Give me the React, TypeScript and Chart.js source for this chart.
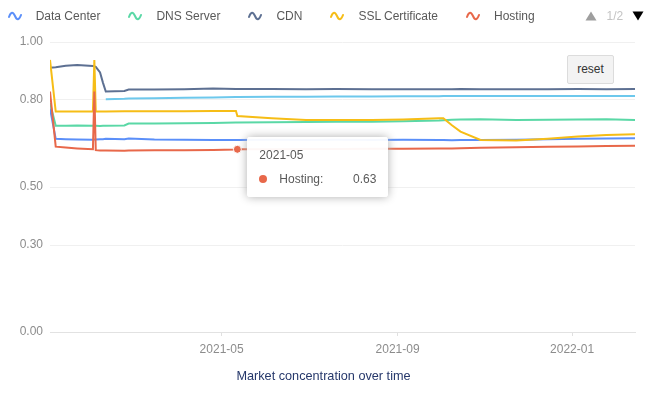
import React, { useEffect, useRef } from "react";
import { Chart, registerables } from "chart.js";

Chart.register(...registerables);

// ---------- data ----------
const dates = [
  "2021-01-01", "2021-01-05", "2021-01-12", "2021-01-20", "2021-01-31", "2021-02-01",
  "2021-02-02", "2021-02-05", "2021-02-07", "2021-02-09", "2021-02-22", "2021-02-25",
  "2021-03-15", "2021-04-05", "2021-04-25", "2021-05-11", "2021-05-12", "2021-06-05",
  "2021-06-29", "2021-07-20", "2021-08-14", "2021-09-05", "2021-09-30", "2021-10-03",
  "2021-10-09", "2021-10-15", "2021-10-29", "2021-11-23", "2021-12-15", "2022-01-05",
  "2022-01-25", "2022-02-14",
];

const dataCenter = [
  0.771, 0.666, 0.665, 0.664, 0.663, 0.664, 0.664, 0.665, 0.665, 0.666, 0.665, 0.667,
  0.664, 0.663, 0.662, 0.662, 0.662, 0.663, 0.662, 0.663, 0.662, 0.663, 0.662, 0.662,
  0.661, 0.662, 0.662, 0.663, 0.665, 0.666, 0.667, 0.668,
];

const dnsServer = [
  0.79, 0.711, 0.711, 0.712, 0.711, 0.711, 0.711, 0.71, 0.711, 0.711, 0.712, 0.719,
  0.719, 0.72, 0.721, 0.722, 0.722, 0.723, 0.724, 0.725, 0.725, 0.727, 0.729, 0.73,
  0.732, 0.733, 0.734, 0.731, 0.732, 0.733, 0.734, 0.731,
];

const cdn = [
  0.911, 0.913, 0.918, 0.921, 0.917, 0.916, 0.914, 0.895, 0.86, 0.829, 0.831, 0.836,
  0.836, 0.837, 0.84, 0.838, 0.838, 0.838, 0.837, 0.838, 0.837, 0.837, 0.837, 0.837,
  0.837, 0.838, 0.837, 0.837, 0.837, 0.838, 0.837, 0.838,
];

const sslCertificate = [
  0.938, 0.76, 0.76, 0.76, 0.76, 0.938, 0.76, 0.76, 0.76, 0.76, 0.761, 0.761,
  0.761, 0.761, 0.762, 0.762, 0.745, 0.737, 0.731, 0.731, 0.731, 0.733, 0.737, 0.737,
  0.713, 0.691, 0.662, 0.66, 0.666, 0.674, 0.679, 0.682,
];

const hosting = [
  0.829, 0.639, 0.636, 0.633, 0.63, 0.829, 0.627, 0.626, 0.626, 0.626, 0.625, 0.626,
  0.627, 0.627, 0.628, 0.629, 0.63, 0.63, 0.631, 0.631, 0.632, 0.632, 0.633, 0.633,
  0.633, 0.634, 0.635, 0.637, 0.639, 0.64, 0.641, 0.642,
];

const email: (number | null)[] = [
  null, null, null, null, null, null, null, null, null, 0.803, 0.804, 0.805,
  0.806, 0.808, 0.809, 0.81, 0.81, 0.811, 0.811, 0.812, 0.812, 0.813, 0.813, 0.814,
  0.814, 0.814, 0.814, 0.814, 0.814, 0.814, 0.814, 0.814,
];

const seriesNames = ["Data Center", "DNS Server", "CDN", "SSL Certificate", "Hosting", "Email"];
const seriesValues: (number | null)[][] = [dataCenter, dnsServer, cdn, sslCertificate, hosting, email];
const seriesColors = ["#5B8FF9", "#5AD8A6", "#5D7092", "#F6BD16", "#E8684A", "#6DC8EC"];
const legendPageCount = 5;

const yTicks = [0, 0.3, 0.5, 0.8, 1.0];
const xTickDates = ["2021-05-01", "2021-09-01", "2022-01-01"];
const xStart = "2021-01-01";
const xEnd = "2022-02-14";

const tooltipSeries = 4;
const tooltipDate = "2021-05-12";

const xAxisTitle = "Market concentration over time";

// ---------- helpers ----------
const DAY = 86400000;
const toDay = (s: string) => {
  const [y, m, d] = s.split("-").map(Number);
  return Date.UTC(y, m - 1, d) / DAY;
};
const fmtMonth = (day: number) => {
  const dt = new Date(Math.round(day) * DAY);
  return `${dt.getUTCFullYear()}-${String(dt.getUTCMonth() + 1).padStart(2, "0")}`;
};

const FONT = "'Liberation Sans', Arial, Helvetica, sans-serif";

function WaveIcon({ color }: { color: string }) {
  return (
    <svg width="14" height="10" viewBox="0 0 14 10" style={{ display: "block" }}>
      <path d="M1 6 C3 0.5 5 0.5 7 5 C9 9.5 11 9.5 13 4" stroke={color} strokeWidth="2" fill="none" strokeLinecap="round" />
    </svg>
  );
}

export default function App() {
  const canvasRef = useRef<HTMLCanvasElement | null>(null);
  const tipRef = useRef<HTMLDivElement | null>(null);
  const tipTitleRef = useRef<HTMLDivElement | null>(null);
  const tipNameRef = useRef<HTMLSpanElement | null>(null);
  const tipValueRef = useRef<HTMLSpanElement | null>(null);
  const tipMarkerRef = useRef<HTMLSpanElement | null>(null);

  useEffect(() => {
    if (!canvasRef.current) return;
    Chart.defaults.font.family = FONT;
    Chart.defaults.font.size = 12;

    const datasets = seriesValues.map((vals, i) => ({
      label: seriesNames[i],
      data: dates
        .map((d, j) => ({ x: toDay(d), y: vals[j] }))
        .filter((p) => p.y !== null) as { x: number; y: number }[],
      borderColor: seriesColors[i],
      backgroundColor: seriesColors[i],
      borderWidth: 2,
      pointRadius: 0,
      pointHoverRadius: 4,
      pointHoverBorderWidth: 1,
      pointHoverBorderColor: "#ffffff",
      pointHoverBackgroundColor: seriesColors[i],
      tension: 0,
      order: 10 - i,
    }));

    const chart = new Chart(canvasRef.current, {
      type: "line",
      data: { datasets },
      options: {
        responsive: false,
        animation: false,
        events: [],
        layout: { padding: { left: 0, right: 18, top: 42, bottom: 0 } },
        scales: {
          x: {
            type: "linear",
            min: toDay(xStart),
            max: toDay(xEnd),
            afterBuildTicks: (axis: any) => {
              axis.ticks = xTickDates.map((d) => ({ value: toDay(d) }));
            },
            afterFit: (axis: any) => {
              axis.height = 64;
            },
            grid: { drawOnChartArea: false, drawTicks: true, tickLength: 4, color: "#e0e0e0" },
            border: { display: true, color: "#e2e2e2" },
            ticks: {
              padding: 6,
              color: "#8c8c8c",
              maxRotation: 0,
              autoSkip: false,
              callback: (v: any) => fmtMonth(Number(v)),
            },
          },
          y: {
            min: 0,
            max: 1,
            afterBuildTicks: (axis: any) => {
              axis.ticks = yTicks.map((v) => ({ value: v }));
            },
            afterFit: (axis: any) => {
              axis.width = 50;
            },
            grid: {
              drawTicks: false,
              color: (ctx: any) => (ctx.tick && ctx.tick.value === 0 ? "#e2e2e2" : "#f0f0f0"),
            },
            border: { display: false },
            ticks: {
              padding: 7,
              color: "#8c8c8c",
              callback: (v: any) => Number(v).toFixed(2),
            },
          },
        },
        plugins: {
          legend: { display: false },
          title: { display: false },
          tooltip: {
            enabled: false,
            external: ({ chart: c, tooltip }: any) => {
              const div = tipRef.current;
              if (!div) return;
              if (tooltip.opacity === 0 || !tooltip.dataPoints || !tooltip.dataPoints.length) {
                div.style.display = "none";
                return;
              }
              const dp = tooltip.dataPoints[0];
              if (tipTitleRef.current) tipTitleRef.current.textContent = fmtMonth(dp.parsed.x);
              if (tipNameRef.current) tipNameRef.current.textContent = dp.dataset.label + ":";
              if (tipValueRef.current) tipValueRef.current.textContent = Number(dp.parsed.y).toFixed(2);
              if (tipMarkerRef.current) tipMarkerRef.current.style.background = dp.dataset.borderColor;
              div.style.display = "block";
              div.style.left = c.canvas.offsetLeft + tooltip.caretX + 10 + "px";
              div.style.top = c.canvas.offsetTop + tooltip.caretY - 12.6 + "px";
            },
          },
        },
      },
    } as any);

    const idx = dates.indexOf(tooltipDate);
    const el: any = chart.getDatasetMeta(tooltipSeries).data[idx];
    if (el) {
      chart.setActiveElements([{ datasetIndex: tooltipSeries, index: idx }]);
      chart.tooltip?.setActiveElements([{ datasetIndex: tooltipSeries, index: idx }], { x: el.x, y: el.y });
      chart.update();
    }

    return () => chart.destroy();
  }, []);

  const legendItems = seriesNames.slice(0, legendPageCount);

  return (
    <div
      style={{
        position: "fixed",
        left: 0,
        top: 0,
        width: 653,
        height: 396,
        background: "#ffffff",
        fontFamily: FONT,
        overflow: "hidden",
      }}
    >
      <canvas ref={canvasRef} width={653} height={396} style={{ position: "absolute", left: 0, top: 0 }} />

      {/* legend */}
      <div
        style={{
          position: "absolute",
          left: 7.7,
          top: 9,
          display: "flex",
          alignItems: "center",
          height: 14,
          fontSize: 12,
          lineHeight: "14px",
          color: "#595959",
          whiteSpace: "nowrap",
        }}
      >
        {legendItems.map((name, i) => (
          <div key={name} style={{ display: "flex", alignItems: "center", marginRight: 28 }}>
            <WaveIcon color={seriesColors[i]} />
            <span style={{ marginLeft: 14 }}>{name}</span>
          </div>
        ))}
      </div>

      {/* legend pager */}
      <svg width="12" height="10" viewBox="0 0 12 10" style={{ position: "absolute", left: 585, top: 10.5 }}>
        <polygon points="6,0.5 11.5,9.5 0.5,9.5" fill="#9e9e9e" />
      </svg>
      <span
        style={{
          position: "absolute",
          left: 606.5,
          top: 9,
          fontSize: 12,
          lineHeight: "14px",
          color: "#c4c4c4",
        }}
      >
        1/2
      </span>
      <svg width="12" height="10" viewBox="0 0 12 10" style={{ position: "absolute", left: 631.5, top: 10.5 }}>
        <polygon points="0.5,0.5 11.5,0.5 6,9.5" fill="#000000" />
      </svg>

      {/* reset button */}
      <div
        style={{
          position: "absolute",
          left: 567,
          top: 55,
          width: 47,
          height: 29,
          boxSizing: "border-box",
          border: "1px solid #dcdcdc",
          background: "#f3f3f3",
          borderRadius: 2,
          fontSize: 12,
          lineHeight: "27px",
          textAlign: "center",
          color: "#333333",
        }}
      >
        reset
      </div>

      {/* axis title */}
      <div
        style={{
          position: "absolute",
          left: 0,
          width: 653,
          top: 369,
          textAlign: "center",
          fontSize: 12.7,
          lineHeight: "14px",
          color: "#26386b",
          paddingRight: 6,
          boxSizing: "border-box",
        }}
      >
        {xAxisTitle}
      </div>

      {/* tooltip */}
      <div
        ref={tipRef}
        style={{
          position: "absolute",
          display: "none",
          width: 141,
          height: 60,
          boxSizing: "border-box",
          padding: "0 12px",
          background: "rgba(255,255,255,0.95)",
          borderRadius: 3,
          boxShadow: "0px 0px 10px #aeaeae",
          fontSize: 12,
          color: "#595959",
        }}
      >
        <div ref={tipTitleRef} style={{ marginTop: 8, height: 20, lineHeight: "20px" }} />
        <div style={{ marginTop: 4.7, height: 20, lineHeight: "20px", display: "flex", alignItems: "center" }}>
          <span
            ref={tipMarkerRef}
            style={{ display: "inline-block", width: 8, height: 8, borderRadius: 4, marginRight: 12 }}
          />
          <span ref={tipNameRef} />
          <span ref={tipValueRef} style={{ marginLeft: "auto" }} />
        </div>
      </div>
    </div>
  );
}
